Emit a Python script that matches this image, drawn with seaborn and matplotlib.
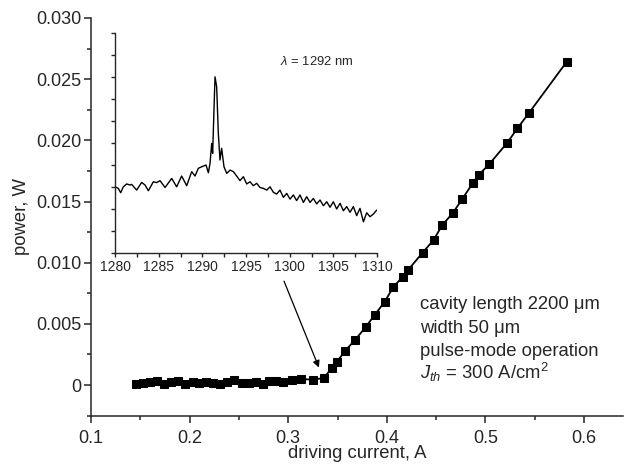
import matplotlib
matplotlib.use("Agg")
import matplotlib.pyplot as plt
import seaborn as sns
from matplotlib.ticker import MultipleLocator, FuncFormatter

# L-I curve: driving current (A) vs output power (W)
current = [0.146, 0.153, 0.160, 0.167, 0.174, 0.181, 0.188, 0.195, 0.203, 0.210,
           0.217, 0.224, 0.231, 0.238, 0.245, 0.253, 0.260, 0.267, 0.274, 0.281,
           0.288, 0.295, 0.304, 0.313, 0.325, 0.336,
           0.3441, 0.3492, 0.3576, 0.3677, 0.3784, 0.3880, 0.3977, 0.4066, 0.4159, 0.4215,
           0.4362, 0.4474, 0.4560, 0.4671, 0.4763, 0.4874, 0.4932, 0.5037, 0.5222, 0.5324,
           0.5439, 0.5825]
power = [0.00012, 0.00015, 0.00022, 0.00030, 0.00010, 0.00022, 0.00030, 0.00010, 0.00022, 0.00020,
         0.00025, 0.00018, 0.00008, 0.00022, 0.00042, 0.00018, 0.00020, 0.00028, 0.00012, 0.00030,
         0.00032, 0.00022, 0.00040, 0.00048, 0.00045, 0.00057,
         0.00137, 0.00188, 0.00278, 0.00368, 0.00472, 0.00576, 0.00679, 0.00801, 0.00883, 0.00940,
         0.01081, 0.01185, 0.01305, 0.01408, 0.01518, 0.01653, 0.01717, 0.01804, 0.01981, 0.02098,
         0.02221, 0.02643]

# inset spectrum: wavelength (nm) vs intensity (arb. units)
wavelength = [1280.00, 1280.38, 1280.65, 1280.95, 1281.34, 1281.72, 1281.91, 1282.48, 1283.05, 1283.44,
              1283.82, 1284.39, 1284.77, 1285.15, 1285.73, 1286.49, 1287.06, 1287.63, 1288.21, 1288.78,
              1289.16, 1289.54, 1289.92, 1290.42, 1290.69, 1290.88, 1291.07, 1291.18, 1291.45, 1291.64,
              1291.83, 1292.02, 1292.21, 1292.48, 1292.79, 1293.17, 1293.55, 1293.93, 1294.31, 1294.70,
              1295.08, 1295.46, 1295.84, 1296.22, 1296.60, 1296.99, 1297.37, 1297.75, 1298.13, 1298.51,
              1298.89, 1299.28, 1299.66, 1300.04, 1300.42, 1300.80, 1301.18, 1301.57, 1301.95, 1302.33,
              1302.71, 1303.09, 1303.47, 1303.86, 1304.24, 1304.62, 1305.00, 1305.38, 1305.77, 1306.15,
              1306.53, 1306.91, 1307.29, 1307.67, 1308.05, 1308.44, 1308.82, 1309.20, 1309.58, 1309.96]
intensity = [3.01, 2.94, 2.74, 3.01, 3.14, 3.09, 3.12, 2.86, 3.21, 3.09,
             2.83, 3.24, 3.20, 3.29, 2.98, 3.39, 3.01, 3.50, 3.06, 3.70,
             3.50, 3.85, 3.92, 4.00, 3.65, 4.08, 4.98, 4.53, 8.01, 7.56,
             5.44, 4.23, 4.76, 3.92, 3.62, 3.77, 3.70, 3.50, 3.29, 3.47,
             3.14, 3.24, 3.06, 3.17, 2.98, 2.94, 2.86, 3.01, 2.76, 2.68,
             2.86, 2.53, 2.71, 2.45, 2.64, 2.38, 2.64, 2.30, 2.56, 2.30,
             2.48, 2.23, 2.41, 2.15, 2.33, 2.08, 2.33, 2.00, 2.26, 1.92,
             2.11, 1.85, 2.11, 1.70, 2.03, 1.42, 1.83, 1.65, 1.77, 1.95]

notes = ["cavity length 2200 \u03bcm", "width 50 \u03bcm", "pulse-mode operation",
         r"$J_{th}$ = 300 A/cm$^2$"]

sns.set_style("ticks")
plt.rcParams['font.family'] = ['Liberation Sans', 'DejaVu Sans']
plt.rcParams['mathtext.fontset'] = 'custom'
plt.rcParams['mathtext.rm'] = 'Liberation Sans'
plt.rcParams['mathtext.it'] = 'Liberation Sans:italic'

fig = plt.figure(figsize=(6.24, 4.65), dpi=100)
ax = fig.add_axes([0.1458, 0.1054, 0.8526, 0.8559])

sns.lineplot(x=current, y=power, ax=ax, color='black', lw=1.3, marker='s',
             markersize=6, markeredgecolor='black', markerfacecolor='black')

ax.set_xlim(0.1, 0.6395)
ax.set_ylim(-0.00253, 0.030)
ax.spines['top'].set_visible(False)
ax.spines['right'].set_visible(False)
for s in ['left', 'bottom']:
    ax.spines[s].set_linewidth(1.1)
ax.xaxis.set_major_locator(MultipleLocator(0.1))
ax.xaxis.set_minor_locator(MultipleLocator(0.05))
ax.yaxis.set_major_locator(MultipleLocator(0.005))
ax.yaxis.set_minor_locator(MultipleLocator(0.0025))
ax.yaxis.set_major_formatter(FuncFormatter(lambda v, p: '0' if abs(v) < 1e-9 else f'{v:.3f}'))
ax.xaxis.set_major_formatter(FuncFormatter(lambda v, p: f'{v:.1f}'))
ax.tick_params(which='major', length=5, width=1.1, direction='out', labelsize=13, pad=2)
ax.tick_params(axis='x', which='major', pad=5)
ax.tick_params(which='minor', length=3, width=1.1, direction='out')
ax.set_xlabel('driving current, A', fontsize=13.3, labelpad=-1)
ax.set_ylabel('power, W', fontsize=13.3, labelpad=4)

for txt, yy in zip(notes, [0.00621, 0.00425, 0.00237, 0.00049]):
    ax.text(0.4337, yy, txt, fontsize=13.3, va='baseline', ha='left')

ax.annotate('', xy=(0.3322, 0.00122), xytext=(0.2947, 0.0087),
            arrowprops=dict(arrowstyle='-|>', color='black', lw=0.9, mutation_scale=10))

# inset spectrum
axin = fig.add_axes([0.1843, 0.4559, 0.4199, 0.473])
axin.patch.set_alpha(0)
sns.lineplot(x=wavelength, y=intensity, ax=axin, color='black', lw=1.0)
axin.set_xlim(1280, 1310)
axin.set_ylim(0, 10)
axin.spines['top'].set_visible(False)
axin.spines['right'].set_visible(False)
for s in ['left', 'bottom']:
    axin.spines[s].set_linewidth(1.0)
axin.xaxis.set_major_locator(MultipleLocator(5))
axin.xaxis.set_minor_locator(MultipleLocator(2.5))
axin.yaxis.set_major_locator(MultipleLocator(1))
axin.set_yticklabels([])
axin.tick_params(which='both', length=3, width=1.0, direction='out', labelsize=10, pad=2)
axin.set_xlabel('')
axin.set_ylabel('')
axin.text(1298.9, 8.55, r'$\lambda$ = 1292 nm', fontsize=9.4, va='baseline', ha='left')

fig.savefig('out.png', dpi=100)
